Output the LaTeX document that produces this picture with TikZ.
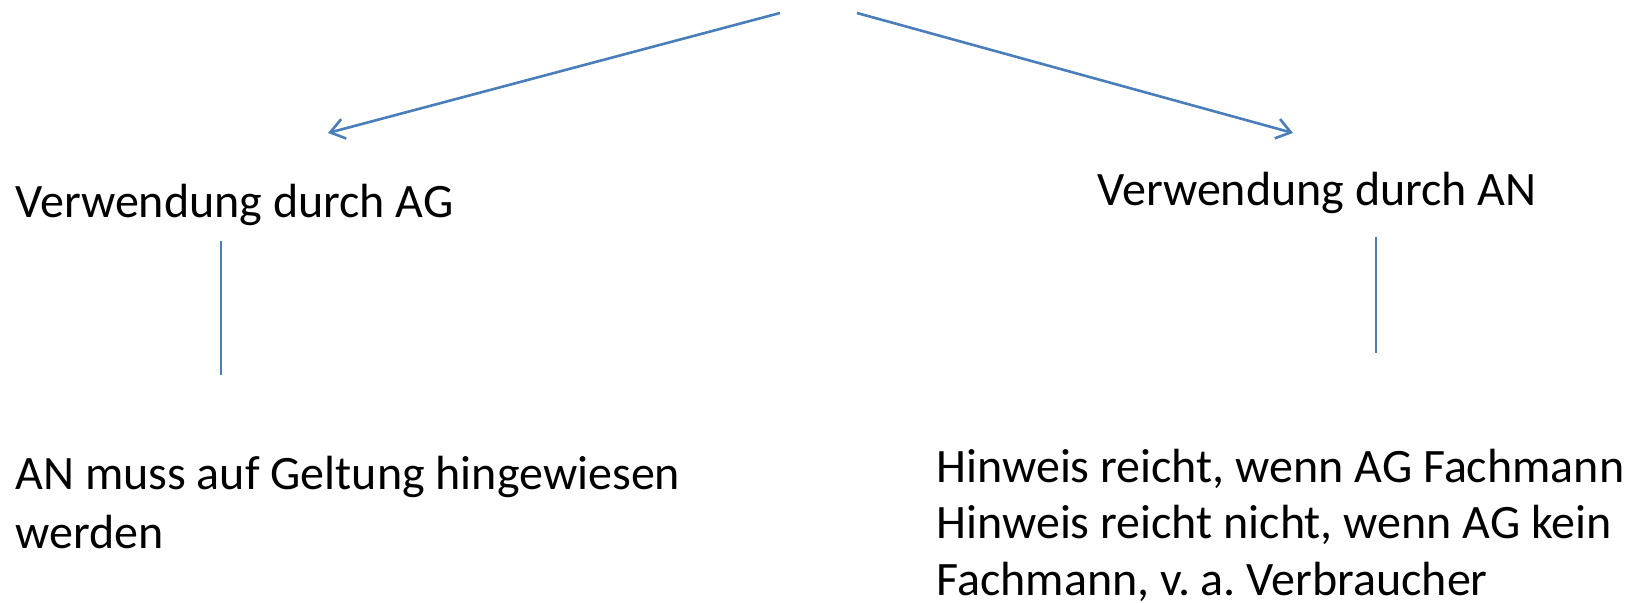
\documentclass[tikz,border=0pt]{standalone}
\usepackage{fontspec}
\setmainfont{Carlito}
\usetikzlibrary{arrows.meta}
\definecolor{officeblue}{HTML}{4A7EBB}
\frenchspacing
\begin{document}
\begin{tikzpicture}[x=0.5pt,y=0.5pt,
    link/.style={draw=officeblue,line width=1.3pt},
    head/.style={font=\fontsize{24}{29}\selectfont,anchor=base west,inner sep=0pt},
    body/.style={anchor=base west,inner sep=0pt,align=left}]
  \useasboundingbox (0,0) rectangle (1640,602);
  \coordinate (srcAG) at (780,589);
  \coordinate (srcAN) at (857,589);
  \coordinate (tipAG) at (328,469);
  \coordinate (tipAN) at (1293,469);
  \node [head] (ag) at (15,384.3) {Verwendung durch AG};
  \node [head] (an) at (1097,396.3) {Verwendung durch AN};
  \node [body,font=\fontsize{24}{29.5}\selectfont] (agtext) at (15,54) {AN muss auf Geltung hingewiesen\\werden};
  \node [body,font=\fontsize{24}{28.15}\selectfont] (antext) at (936,7) {Hinweis reicht, wenn AG Fachmann\\Hinweis reicht nicht, wenn AG kein\\Fachmann, v. a. Verbraucher};
  \coordinate (agup) at (221,361);
  \coordinate (agdown) at (221,227);
  \coordinate (anup) at (1376,365);
  \coordinate (andown) at (1376,249);
  \draw [link,-{Straight Barb[length=7pt,width=10pt]}] (srcAG) -- (tipAG);
  \draw [link,-{Straight Barb[length=7pt,width=10pt]}] (srcAN) -- (tipAN);
  \draw [link] (agup) -- (agdown);
  \draw [link] (anup) -- (andown);
\end{tikzpicture}
\end{document}
